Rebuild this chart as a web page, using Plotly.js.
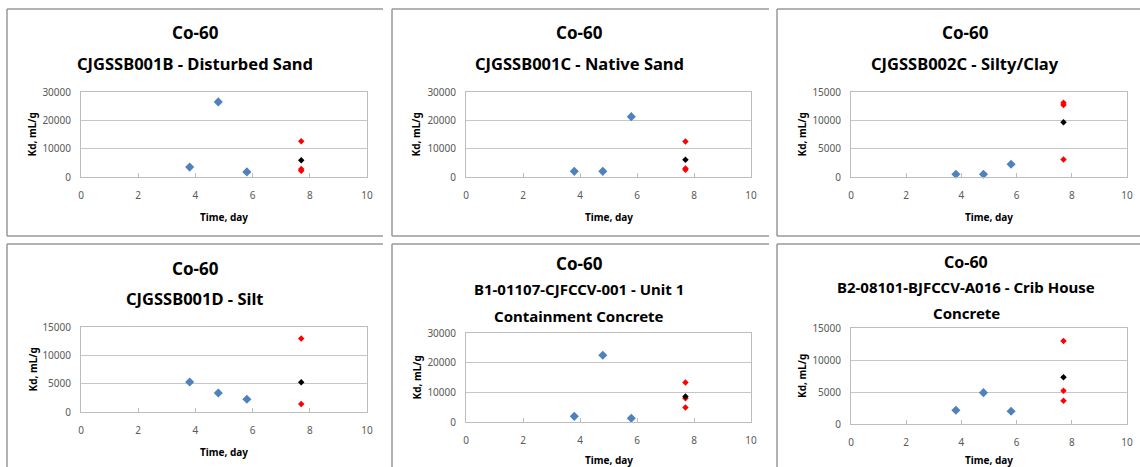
<!DOCTYPE html>
<html><head><meta charset="utf-8">
<script src="https://cdn.plot.ly/plotly-3.0.1.min.js"></script>
<style>html,body{margin:0;padding:0;background:#fff;overflow:hidden;} #chart{width:1140px;height:467px;}</style>
</head><body><div id="chart"></div>
<script>
const W = 1140, H = 467;

// ---- data ----
const xDays = [3.8, 4.8, 5.8];
const xFinal = 7.7;
const xTicks = [0, 2, 4, 6, 8, 10];
const panelTitles = [
  ["Co-60", "CJGSSB001B - Disturbed Sand"],
  ["Co-60", "CJGSSB001C - Native Sand"],
  ["Co-60", "CJGSSB002C - Silty/Clay"],
  ["Co-60", "CJGSSB001D - Silt"],
  ["Co-60", "B1-01107-CJFCCV-001 - Unit 1", "Containment Concrete"],
  ["Co-60", "B2-08101-BJFCCV-A016 - Crib House", "Concrete"]
];
const xTitle = "Time, day";
const yTitle = "Kd, mL/g";
const yMax = [30000, 30000, 15000, 15000, 30000, 15000];
const yStep = [10000, 10000, 5000, 5000, 10000, 5000];

const blue1 = [3500, 26500, 1800];   const red1 = [12600, 2800, 2200];  const black1 = [5900];
const blue2 = [2000, 2000, 21300];   const red2 = [12500, 3000, 2600];  const black2 = [6100];
const blue3 = [480, 480, 2260];      const red3 = [13100, 12700, 3100]; const black3 = [9650];
const blue4 = [5300, 3350, 2250];    const red4 = [12950, 1400];        const black4 = [5250];
const blue5 = [1900, 22500, 1250];   const red5 = [13300, 8000, 4900];  const black5 = [8600];
const blue6 = [2150, 4900, 2000];    const red6 = [12950, 5200, 3650];  const black6 = [7300];

const blueSets = [blue1, blue2, blue3, blue4, blue5, blue6];
const redSets = [red1, red2, red3, red4, red5, red6];
const blackSets = [black1, black2, black3, black4, black5, black6];

// ---- geometry (pixels) ----
const plots = [
  {l: 81, r: 367, t: 92, b: 177},
  {l: 466, r: 751, t: 92, b: 177},
  {l: 851, r: 1127, t: 92, b: 177},
  {l: 81, r: 367, t: 327, b: 412},
  {l: 466, r: 751, t: 333, b: 422},
  {l: 851, r: 1127, t: 328, b: 424}
];
const titleY = [[33, 63], [33, 63], [33, 63], [268, 298], [263, 289, 316], [262, 287, 313]];
const titleX = [195, 579, 965, 195, 579, 966];
const titleSize = [16.5, 16.5, 16.5, 16.5, 15, 15];
const co60Size = [17, 17, 17, 17, 17, 16];
const xTitleY = [217, 217, 217, 452, 460, 460];
const yTitleX = [32, 416, 802, 32, 416, 802];
const borders = [
  {l: 7, r: 383, t: 9, b: 236},
  {l: 392, r: 769, t: 9, b: 236},
  {l: 777, r: 1140, t: 9, b: 236},
  {l: 7, r: 383, t: 244, b: 470},
  {l: 392, r: 769, t: 244, b: 470},
  {l: 777, r: 1140, t: 244, b: 470}
];

const px = x => x / W;
const py = y => 1 - y / H;

const FONT = "Noto Sans, DejaVu Sans, sans-serif";
const traces = [];
const layout = {
  width: W, height: H,
  margin: {l: 0, r: 0, t: 0, b: 0},
  paper_bgcolor: "#ffffff", plot_bgcolor: "#ffffff",
  showlegend: false,
  shapes: [], annotations: []
};

for (let i = 0; i < 6; i++) {
  const n = i + 1;
  const xa = n === 1 ? "x" : "x" + n;
  const ya = n === 1 ? "y" : "y" + n;
  const p = plots[i];
  traces.push({x: xDays, y: blueSets[i], xaxis: xa, yaxis: ya, type: "scatter", mode: "markers",
    marker: {symbol: "diamond", size: 7, color: "#4f81bd"}, cliponaxis: false});
  traces.push({x: redSets[i].map(() => xFinal), y: redSets[i], xaxis: xa, yaxis: ya, type: "scatter", mode: "markers",
    marker: {symbol: "diamond", size: 5, color: "#ff0000"}, cliponaxis: false});
  traces.push({x: blackSets[i].map(() => xFinal), y: blackSets[i], xaxis: xa, yaxis: ya, type: "scatter", mode: "markers",
    marker: {symbol: "diamond", size: 5, color: "#000000"}, cliponaxis: false});

  // main x axis: frame + inside tick marks
  layout["xaxis" + (n === 1 ? "" : n)] = {
    domain: [px(p.l), px(p.r)], anchor: ya, range: [0, 10], tickvals: xTicks,
    showgrid: false, zeroline: false, showline: true, mirror: true, linecolor: "#bdbdbd", linewidth: 1,
    ticks: "inside", ticklen: 4, tickcolor: "#bdbdbd", showticklabels: false, fixedrange: true
  };
  // overlay x axis: tick labels only
  layout["xaxis" + (n + 6)] = {
    domain: [px(p.l), px(p.r)], anchor: ya, overlaying: xa, range: [0, 10], tickvals: xTicks,
    showgrid: false, zeroline: false, showline: false, ticks: "outside", ticklen: 9, tickcolor: "rgba(0,0,0,0)",
    ticklabeloverflow: "allow",
    tickfont: {family: FONT, size: 10, color: "#595959"}, fixedrange: true
  };
  layout["yaxis" + (n === 1 ? "" : n)] = {
    domain: [py(p.b), py(p.t)], anchor: xa, range: [0, yMax[i]], dtick: yStep[i], tick0: 0,
    tickformat: "d", exponentformat: "none",
    showgrid: true, gridcolor: "#c6c6c6", gridwidth: 1, zeroline: false,
    showline: true, mirror: true, linecolor: "#bdbdbd", linewidth: 1, ticks: "",
    tickfont: {family: FONT, size: 10, color: "#595959"}, ticklabelstandoff: 7, fixedrange: true
  };
  // invisible trace that activates the label axis
  traces.push({x: [0], y: [0], xaxis: "x" + (n + 6), yaxis: ya, type: "scatter", mode: "markers",
    marker: {size: 1, opacity: 0}, hoverinfo: "skip"});

  // titles
  panelTitles[i].forEach((t, k) => {
    layout.annotations.push({text: "<b>" + t + "</b>", xref: "paper", yref: "paper",
      x: px(titleX[i]), y: py(titleY[i][k]), xanchor: "center", yanchor: "middle", showarrow: false,
      font: {family: FONT, size: k === 0 ? co60Size[i] : titleSize[i], color: "#000"}});
  });
  layout.annotations.push({text: "<b>" + xTitle + "</b>", xref: "paper", yref: "paper",
    x: px((p.l + p.r) / 2), y: py(xTitleY[i]), xanchor: "center", yanchor: "middle", showarrow: false,
    font: {family: FONT, size: 10, color: "#000"}});
  layout.annotations.push({text: "<b>" + yTitle + "</b>", xref: "paper", yref: "paper",
    x: px(yTitleX[i]), y: py((p.t + p.b) / 2), xanchor: "center", yanchor: "middle", showarrow: false,
    textangle: -90, font: {family: FONT, size: 10, color: "#000"}});

  // panel borders (left, top, bottom; right side cropped)
  const b = borders[i];
  const ln = {color: "#999999", width: 1.5};
  layout.shapes.push({type: "line", xref: "paper", yref: "paper", x0: px(b.l), x1: px(b.l), y0: py(b.t), y1: py(b.b), line: ln});
  layout.shapes.push({type: "line", xref: "paper", yref: "paper", x0: px(b.l), x1: px(b.r), y0: py(b.t), y1: py(b.t), line: ln});
  layout.shapes.push({type: "line", xref: "paper", yref: "paper", x0: px(b.l), x1: px(b.r), y0: py(b.b), y1: py(b.b), line: ln});
}

Plotly.newPlot("chart", traces, layout, {staticPlot: true, displayModeBar: false});
</script>
</body></html>
